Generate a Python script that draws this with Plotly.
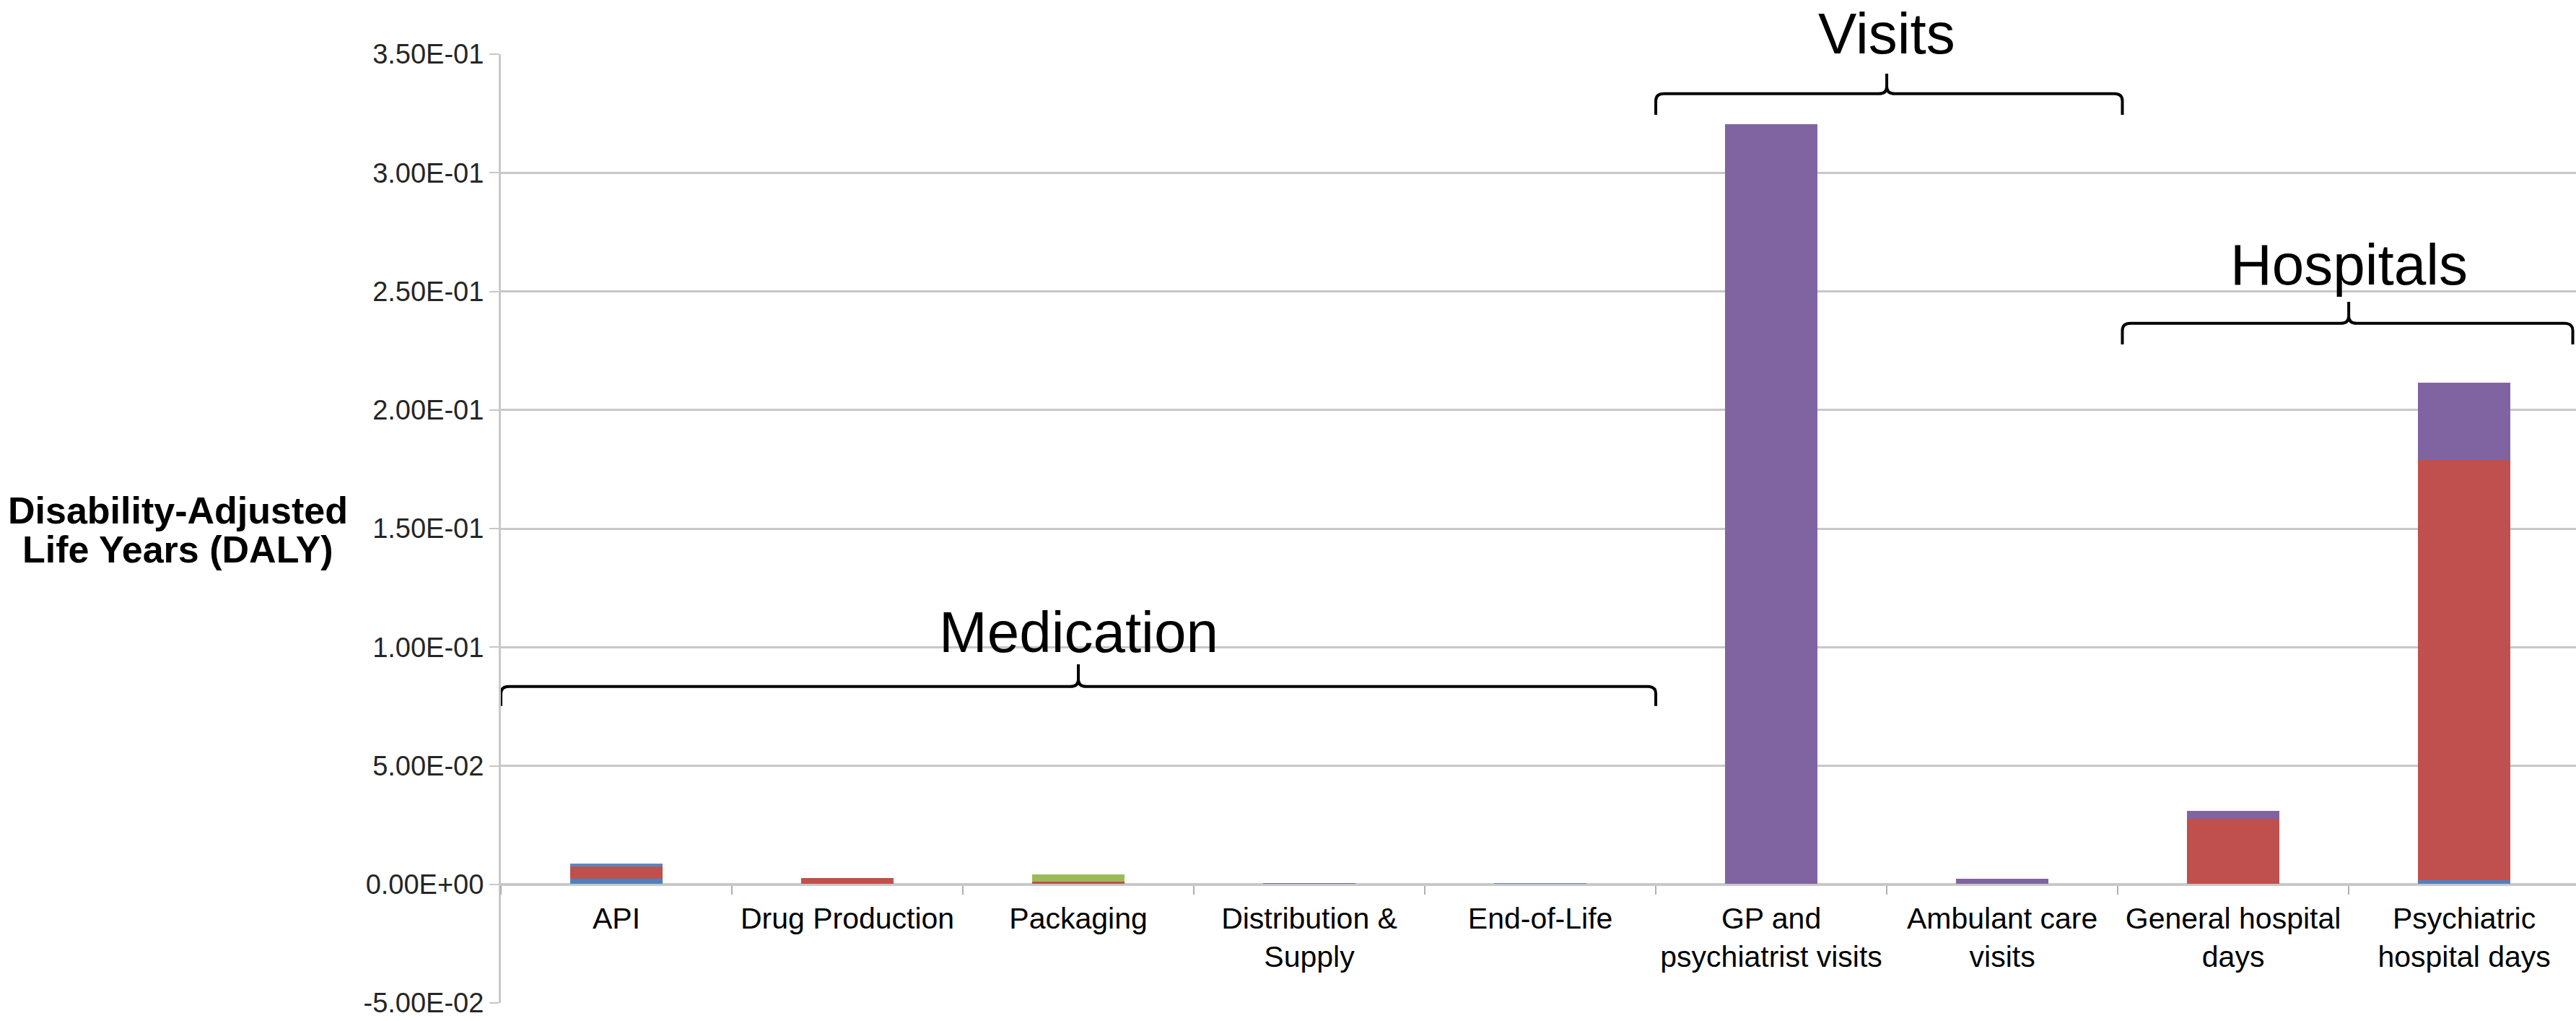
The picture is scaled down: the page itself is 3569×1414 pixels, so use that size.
import plotly.graph_objects as go

# Life-cycle stages (x categories); <br> splits the two-line labels
categories = [
    "API",
    "Drug Production",
    "Packaging",
    "Distribution &<br>Supply",
    "End-of-Life",
    "GP and<br>psychiatrist visits",
    "Ambulant care<br>visits",
    "General hospital<br>days",
    "Psychiatric<br>hospital days",
]

# Stacked DALY contributions per stage (bottom to top)
series_1 = [0.0023, 0.0, 0.0, 0.0, 0.0, 0.0, 0.0, 0.0, 0.0018]
series_2 = [0.0051, 0.0026, 0.0010, 0.0, 0.0, 0.0, 0.0, 0.0277, 0.1771]
series_3 = [0.0, 0.0, 0.0031, 0.0, 0.0, 0.0, 0.0, 0.0, 0.0]
series_4 = [0.0, 0.0, 0.0, 0.0006, 0.0, 0.3204, 0.0023, 0.0033, 0.0327]
series_5 = [0.0015, 0.0, 0.0, 0.0, 0.0005, 0.0, 0.0, 0.0, 0.0]

series_names = ["Series1", "Series2", "Series3", "Series4", "Series5"]
series_values = [series_1, series_2, series_3, series_4, series_5]
series_colors = ["#4F81BD", "#C0504D", "#9BBB59", "#8064A2", "#5B87C0"]

# y-axis ticks in scientific notation
y_ticks = [-0.05, 0.0, 0.05, 0.10, 0.15, 0.20, 0.25, 0.30, 0.35]
y_tick_labels = [f"{v:.2E}" for v in y_ticks]
Y_RANGE = [-0.05, 0.35]

# Group brackets: label, start, end, centre (category units), end/line/tip heights, label height
groups = [
    ("Medication", -0.5, 4.5, 2.0, 0.0752, 0.0834, 0.0928, 0.1063),
    ("Visits", 4.5, 6.52, 5.5, 0.3244, 0.3333, 0.3418, 0.3588),
    ("Hospitals", 6.52, 8.47, 7.5, 0.2276, 0.2365, 0.2456, 0.2614),
]

# Lines of the horizontal y-axis title
y_title_lines = ["Disability-Adjusted", "Life Years (DALY)"]

X_RANGE = [-0.5, 8.484]
FONT = "Liberation Sans, Arial, sans-serif"
GRID = "#C8C8C8"


def to_paper_y(v):
    return (v - Y_RANGE[0]) / (Y_RANGE[1] - Y_RANGE[0])


fig = go.Figure()
for name, vals, col in zip(series_names, series_values, series_colors):
    fig.add_trace(go.Bar(
        x=categories, y=vals, name=name,
        marker=dict(color=col, line=dict(width=0)),
    ))


def brace_path(x0, x1, xc, y_end, y_line, y_tip):
    rx = 0.035   # corner size along x (category units)
    ry = 0.003   # corner size along y (DALY units)
    return (
        f"M {x0},{y_end} L {x0},{y_line - ry} Q {x0},{y_line} {x0 + rx},{y_line} "
        f"L {xc - rx},{y_line} Q {xc},{y_line} {xc},{y_line + ry} L {xc},{y_tip} "
        f"M {xc},{y_tip} L {xc},{y_line + ry} Q {xc},{y_line} {xc + rx},{y_line} "
        f"L {x1 - rx},{y_line} Q {x1},{y_line} {x1},{y_line - ry} L {x1},{y_end}"
    )


shapes = []
annotations = []
for label, x0, x1, xc, y_end, y_line, y_tip, y_text in groups:
    shapes.append(dict(
        type="path", xref="x2", yref="y",
        path=brace_path(x0, x1, xc, y_end, y_line, y_tip),
        line=dict(color="black", width=4),
    ))
    annotations.append(dict(
        xref="x2", yref="paper", x=xc, y=to_paper_y(y_text), text=label, showarrow=False,
        xanchor="center", yanchor="middle",
        font=dict(family=FONT, size=80, color="black"),
    ))

# Horizontal y-axis title at the left, one annotation per line
for i, line_text in enumerate(y_title_lines):
    annotations.append(dict(
        xref="paper", yref="paper", x=-0.1555, y=0.519 - i * 0.041,
        text=f"<b>{line_text}</b>",
        showarrow=False, xanchor="center", yanchor="middle", align="center",
        font=dict(family=FONT, size=52, color="black"),
    ))

fig.update_layout(
    width=3569, height=1414,
    margin=dict(l=694, r=0, t=75, b=25, autoexpand=False),
    paper_bgcolor="white", plot_bgcolor="white",
    barmode="stack", bargap=0.6,
    showlegend=False,
    font=dict(family=FONT),
    xaxis=dict(
        type="category", range=X_RANGE,
        anchor="free", position=to_paper_y(0.0),
        showline=True, linecolor=GRID, linewidth=3,
        ticks="outside", tickson="boundaries", ticklen=12, tickwidth=2, tickcolor="#B0B0B0",
        ticklabelstandoff=10,
        tickfont=dict(family=FONT, size=41, color="black"),
        showgrid=False, zeroline=False,
    ),
    xaxis2=dict(
        overlaying="x", anchor="y", range=X_RANGE, visible=False,
    ),
    yaxis=dict(
        range=Y_RANGE,
        tickmode="array", tickvals=y_ticks, ticktext=y_tick_labels,
        showgrid=True, gridcolor=GRID, gridwidth=3,
        showline=True, linecolor=GRID, linewidth=3,
        ticks="outside", ticklen=13, tickwidth=2, tickcolor=GRID,
        tickfont=dict(family=FONT, size=38, color="#262626"),
        zeroline=False,
    ),
    shapes=shapes,
    annotations=annotations,
)

fig.write_html("out.html")
